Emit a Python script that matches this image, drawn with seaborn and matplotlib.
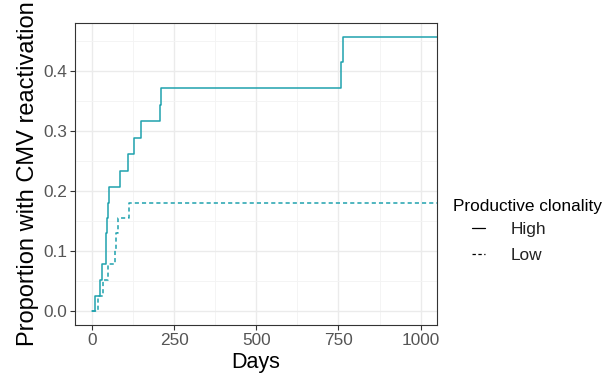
import matplotlib
matplotlib.use("Agg")
import matplotlib.pyplot as plt
import seaborn as sns
import pandas as pd
from matplotlib.lines import Line2D
from matplotlib.ticker import MultipleLocator

# ---- data ----
high_days = [0, 10, 23, 31, 42, 43, 45, 48, 53, 84, 110, 127, 148, 208, 210, 758, 764, 1050]
high_prop = [0.0, 0.026, 0.052, 0.078, 0.104, 0.130, 0.156, 0.181, 0.207, 0.234, 0.261,
             0.289, 0.316, 0.344, 0.372, 0.415, 0.457, 0.457]
low_days = [0, 18, 32, 47, 70, 72, 80, 111, 1050]
low_prop = [0.0, 0.026, 0.052, 0.078, 0.104, 0.130, 0.155, 0.181, 0.181]
groups = ["High", "Low"]
x_ticks = [0, 250, 500, 750, 1000]
y_ticks = [0.0, 0.1, 0.2, 0.3, 0.4]

df = pd.DataFrame({
    "Days": high_days + low_days,
    "Proportion": high_prop + low_prop,
    "Productive clonality": [groups[0]] * len(high_days) + [groups[1]] * len(low_days),
})

sns.set_theme(style="white")
plt.rcParams["font.family"] = ["Liberation Sans", "DejaVu Sans"]

teal = "#1FA2AE"
fig = plt.figure(figsize=(6.03, 3.86), dpi=100)
ax = fig.add_axes([75 / 603, 1 - 325 / 386, (437 - 75) / 603, (325 - 23) / 386])

dash = (2.7, 2.0)
sns.lineplot(data=df, x="Days", y="Proportion", style="Productive clonality",
             dashes={"High": "", "Low": dash}, color=teal, linewidth=1.1,
             drawstyle="steps-post", estimator=None, legend=False, ax=ax)

ax.set_xlim(-52, 1050)
ax.set_ylim(-0.023, 0.480)
ax.set_xticks(x_ticks)
ax.set_yticks(y_ticks)
ax.set_yticklabels([f"{v:.1f}" for v in y_ticks])
ax.xaxis.set_minor_locator(MultipleLocator(125))
ax.yaxis.set_minor_locator(MultipleLocator(0.05))

ax.grid(True, which="major", color="#EBEBEB", linewidth=1.0)
ax.grid(True, which="minor", color="#F3F3F3", linewidth=0.6)
ax.set_axisbelow(True)
for s in ax.spines.values():
    s.set_color("#333333")
    s.set_linewidth(0.8)
ax.tick_params(axis="both", which="major", length=3.5, width=0.8, color="#333333",
               labelsize=12.4, labelcolor="#555555", pad=2, bottom=True, left=True)
ax.tick_params(axis="both", which="minor", length=0)

ax.set_xlabel("Days", fontsize=15.5, color="black", labelpad=3)
ax.set_ylabel("Proportion with CMV reactivation", fontsize=17, color="black", labelpad=3)

# legend
fig.text(453 / 603, 1 - 207 / 386, "Productive clonality", fontsize=12.4,
         ha="left", va="center", color="black")
handles = [Line2D([], [], color="black", linewidth=0.9),
           Line2D([], [], color="black", linewidth=0.9, dashes=dash)]
leg = fig.legend(handles, groups, loc="upper left",
                 bbox_to_anchor=(472 / 603, 1 - 222 / 386), frameon=False,
                 fontsize=12.4, handlelength=0.75, handletextpad=1.5,
                 labelspacing=0.62, borderpad=0, borderaxespad=0)
for t in leg.get_texts():
    t.set_color("#222222")

fig.savefig("out.png", dpi=100)
